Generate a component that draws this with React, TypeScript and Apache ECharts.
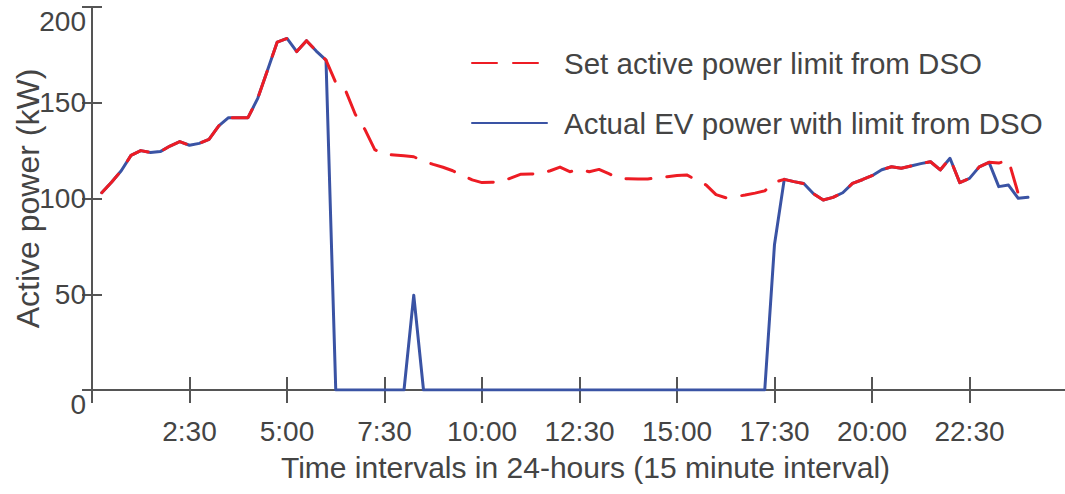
import React, { useEffect, useRef } from "react";
import * as echarts from "echarts";

// 15-minute slots 1..96 across the day
const slots: number[] = Array.from({ length: 96 }, (_, i) => i + 1);

// Active power limit set by the DSO (kW)
const limitKw: number[] = [
  103, 108.5, 114.5, 122.5, 125, 124, 124.5, 127.4, 129.7, 127.8,
  128.8, 130.9, 137.9, 142.2, 142.2, 142.2, 152.3, 167, 181.7, 183.6,
  176.7, 182.4, 177, 172.3, 160.5, 156.5, 144, 136, 125.5, 123,
  122.7, 122.3, 121.8, 119.5, 117.8, 116.3, 114.5, 112, 109.7, 108.3,
  108.5, 108.8, 110.8, 112.7, 112.8, 113, 114.5, 116.4, 114, 115.2,
  114, 115.2, 113, 110.5, 110.3, 110.2, 110.2, 110.8, 111.4, 112,
  112.3, 109.6, 107, 102, 100.4, 101, 101.8, 102.8, 104, 108.5,
  110, 108.8, 107.8, 102.5, 99.2, 100.6, 103, 107.9, 109.8, 111.9,
  115, 116.6, 115.8, 117, 118.2, 119.2, 114.9, 121, 108.3, 110.5,
  116.5, 118.9, 118.5, 120, 102.5, 103.5,
];

// Actual EV charging power under the DSO limit (kW)
const actualKw: number[] = [
  103, 108.5, 114.5, 122.5, 125, 124, 124.5, 127.4, 129.7, 127.8,
  128.8, 130.9, 137.9, 142.2, 142.2, 142.2, 152.3, 167, 181.7, 183.6,
  176.7, 182.4, 177, 172.3, 0, 0, 0, 0, 0, 0,
  0, 0, 49.5, 0, 0, 0, 0, 0, 0, 0,
  0, 0, 0, 0, 0, 0, 0, 0, 0, 0,
  0, 0, 0, 0, 0, 0, 0, 0, 0, 0,
  0, 0, 0, 0, 0, 0, 0, 0, 0, 76,
  110, 108.8, 107.8, 102.5, 99.2, 100.6, 103, 107.9, 109.8, 111.9,
  115, 116.6, 115.8, 117, 118.2, 119.2, 114.9, 121, 108.3, 110.5,
  116.5, 118.9, 106.2, 107, 100.1, 100.6,
];

// Time labels every 10 slots (2.5 hours)
const timeLabels: string[] = [
  "2:30", "5:00", "7:30", "10:00", "12:30", "15:00", "17:30", "20:00", "22:30",
];

const FONT = "'Liberation Sans', Arial, Helvetica, sans-serif";
const TEXT = "#444444";
const AXIS = "#555555";
const RED = "#ED1C24";
const BLUE = "#3A53A4";

export default function App() {
  const ref = useRef<HTMLDivElement>(null);

  useEffect(() => {
    if (!ref.current) return;
    const chart = echarts.init(ref.current, undefined, { renderer: "svg" });

    const axisLine = { show: true, lineStyle: { color: AXIS, width: 2 } };

    chart.setOption({
      animation: false,
      backgroundColor: "#ffffff",
      textStyle: { fontFamily: FONT },
      grid: {
        left: 92,
        top: 7,
        width: 975,
        height: 383,
        containLabel: false,
        outerBoundsMode: "none",
      },
      legend: {
        orient: "vertical",
        left: 466,
        top: 43,
        itemWidth: 75,
        itemHeight: 14,
        itemGap: 30,
        itemStyle: { opacity: 0 },
        data: ["Set active power limit from DSO", "Actual EV power with limit from DSO"],
        textStyle: { fontSize: 29.5, color: TEXT, fontFamily: FONT, padding: [0, 0, 0, 12] },
      },
      xAxis: [
        {
          type: "value",
          position: "bottom",
          min: 0,
          max: 100,
          interval: 10,
          name: "Time intervals in 24-hours (15 minute interval)",
          nameLocation: "middle",
          nameGap: 62,
          nameMoveOverlap: false,
          nameTextStyle: { fontSize: 30, color: TEXT, fontFamily: FONT, padding: [0, 0, 0, 12] },
          axisLine,
          axisTick: { inside: true, length: 13, lineStyle: { color: AXIS, width: 2 } },
          axisLabel: {
            margin: 27,
            fontSize: 28,
            color: TEXT,
            fontFamily: FONT,
            formatter: (v: number) => {
              const k = Math.round(v / 10);
              return k >= 1 && k <= timeLabels.length ? timeLabels[k - 1] : "";
            },
          },
          splitLine: { show: false },
        },
        {
          type: "value",
          position: "top",
          min: 0,
          max: 100,
          interval: 10,
          axisLine,
          axisTick: { inside: true, length: 13, lineStyle: { color: AXIS, width: 2 } },
          axisLabel: { show: false },
          splitLine: { show: false },
        },
      ],
      yAxis: [
        {
          type: "value",
          position: "left",
          min: 0,
          max: 200,
          interval: 50,
          name: "Active power (kW)",
          nameLocation: "middle",
          nameGap: 48,
          nameMoveOverlap: false,
          nameTextStyle: { fontSize: 32, color: TEXT, fontFamily: FONT },
          axisLine,
          axisTick: { inside: true, length: 10, lineStyle: { color: AXIS, width: 2 } },
          axisLabel: {
            margin: 6,
            fontSize: 28,
            color: TEXT,
            fontFamily: FONT,
            verticalAlignMaxLabel: "top",
            verticalAlignMinLabel: "top",
          },
          splitLine: { show: false },
        },
        {
          type: "value",
          position: "right",
          min: 0,
          max: 200,
          interval: 50,
          axisLine,
          axisTick: { inside: true, length: 10, lineStyle: { color: AXIS, width: 2 } },
          axisLabel: { show: false },
          splitLine: { show: false },
        },
      ],
      series: [
        {
          name: "Actual EV power with limit from DSO",
          type: "line",
          xAxisIndex: 0,
          yAxisIndex: 0,
          symbol: "none",
          data: slots.map((s, i) => [s, actualKw[i]]),
          lineStyle: { color: BLUE, width: 3, join: "round", cap: "round" },
          itemStyle: { color: BLUE },
          z: 2,
        },
        {
          name: "Set active power limit from DSO",
          type: "line",
          xAxisIndex: 0,
          yAxisIndex: 0,
          symbol: "none",
          data: slots.map((s, i) => [s, limitKw[i]]),
          lineStyle: { color: RED, width: 3, type: [25, 16], cap: "round", join: "round" },
          itemStyle: { color: RED },
          z: 3,
        },
      ],
    });

    return () => chart.dispose();
  }, []);

  return (
    <div
      ref={ref}
      style={{ position: "absolute", left: 0, top: 0, width: 1065, height: 494 }}
    />
  );
}
